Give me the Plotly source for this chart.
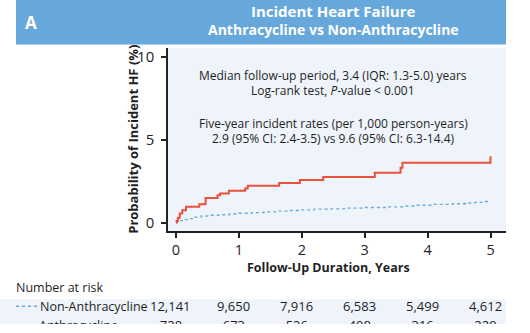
import plotly.graph_objects as go

# Kaplan-Meier style cumulative incidence (%), step curves
anthra_years = [0, 0.01, 0.03, 0.06, 0.10, 0.16, 0.37, 0.47, 0.66, 0.70, 0.84,
                1.10, 1.14, 1.64, 1.97, 2.34, 3.16, 3.57, 3.60, 5.0]
anthra_prob = [0, 0.10, 0.30, 0.55, 0.75, 0.95, 1.10, 1.48, 1.65, 1.76, 1.92,
               2.06, 2.22, 2.39, 2.57, 2.75, 3.00, 3.30, 3.60, 4.00]

non_years = [0, 0.02, 0.06, 0.15, 0.22, 0.30, 0.40, 0.55, 0.70, 0.85, 1.0,
             1.2, 1.4, 1.6, 1.8, 2.0, 2.2, 2.4, 2.7, 3.0, 3.35, 3.6, 3.8,
             4.05, 4.4, 4.6, 4.75, 4.88, 5.0]
non_prob = [0, 0.06, 0.12, 0.18, 0.24, 0.33, 0.40, 0.44, 0.47, 0.52, 0.56,
            0.60, 0.65, 0.69, 0.73, 0.77, 0.81, 0.83, 0.87, 0.91, 0.95, 1.00, 1.05,
            1.10, 1.14, 1.18, 1.22, 1.27, 1.27]

# Number at risk table
risk_times = [0, 1, 2, 3, 4, 5]
risk_non = ["12,141", "9,650", "7,916", "6,583", "5,499", "4,612"]
risk_anthra = ["728", "673", "536", "408", "316", "229"]

x_ticks = [0, 1, 2, 3, 4, 5]
y_ticks = [0, 5, 10]

RED = "#E8513D"
BLUE = "#6AAAD8"
HEADER = "#67A8DC"
PANEL = "#EEF4FA"
INK = "#1f1f1f"
FONT = "Open Sans"

W, H = 530, 333
X_RANGE = [-0.127, 5.246]
PLOT_L, PLOT_R = 168, 506
NUM_SHIFT = -5  # risk counts sit slightly left of their tick


def px(x):
    return x / W


def py(y):
    return 1 - y / H


# the risk-table strip shares the main x scale but starts at the page's left edge
units_per_px = (X_RANGE[1] - X_RANGE[0]) / (PLOT_R - PLOT_L)
x2_left = X_RANGE[0] - PLOT_L * units_per_px

fig = go.Figure()
fig.add_trace(go.Scatter(x=non_years, y=non_prob, mode="lines", line_shape="hv",
                         line=dict(color=BLUE, width=1.4, dash="dot"),
                         name="Non-Anthracycline", hoverinfo="skip"))
fig.add_trace(go.Scatter(x=anthra_years, y=anthra_prob, mode="lines", line_shape="hv",
                         line=dict(color=RED, width=2),
                         name="Anthracycline", hoverinfo="skip"))

# last risk row: drawn in its own strip so the page edge trims it
fig.add_trace(go.Scatter(x=[t + NUM_SHIFT * units_per_px for t in risk_times],
                         y=[-3] * len(risk_times), text=risk_anthra,
                         mode="text", textposition="middle center",
                         textfont=dict(family=FONT, size=13, color=INK),
                         cliponaxis=True, xaxis="x2", yaxis="y2", hoverinfo="skip"))
fig.add_trace(go.Scatter(x=[x2_left + 39 * units_per_px], y=[-3], text=["Anthracycline"],
                         mode="text", textposition="middle right",
                         textfont=dict(family=FONT, size=12.5, color=INK),
                         cliponaxis=True, xaxis="x2", yaxis="y2", hoverinfo="skip"))

shapes = [
    # title band
    dict(type="rect", xref="paper", yref="paper", x0=px(16), x1=px(506),
         y0=py(43), y1=py(-2), fillcolor=HEADER, line_width=0, layer="below"),
    # legend key of the risk table
    dict(type="line", xref="paper", yref="paper", x0=px(16), x1=px(37),
         y0=py(307), y1=py(307), line=dict(color=BLUE, width=1.3, dash="dot")),
]

ann = []
ann.append(dict(text="<b>A</b>", x=px(23), y=py(21), xref="paper", yref="paper",
                xanchor="left", yanchor="middle", showarrow=False,
                font=dict(family=FONT, size=17, color="white")))
ann.append(dict(text="<b>Incident Heart Failure</b>", x=px(333), y=py(9), xref="paper",
                yref="paper", xanchor="center", yanchor="middle", showarrow=False,
                font=dict(family=FONT, size=15, color="white")))
ann.append(dict(text="<b>Anthracycline vs Non-Anthracycline</b>", x=px(333), y=py(28),
                xref="paper", yref="paper", xanchor="center", yanchor="middle",
                showarrow=False, font=dict(family=FONT, size=14, color="white")))

info = [
    ("Median follow-up period, 3.4 (IQR: 1.3-5.0) years", 74),
    ("Log-rank test, <i>P</i>-value &lt; 0.001", 89),
    ("Five-year incident rates (per 1,000 person-years)", 123),
    ("2.9 (95% CI: 2.4-3.5) vs 9.6 (95% CI: 6.3-14.4)", 138),
]
for txt, yy in info:
    ann.append(dict(text=txt, x=px(333), y=py(yy), xref="paper", yref="paper",
                    xanchor="center", yanchor="middle", showarrow=False,
                    font=dict(family=FONT, size=12, color=INK)))

ann.append(dict(text="<b>Probability of Incident HF (%)</b>", x=px(133), y=py(139),
                xref="paper", yref="paper", xanchor="center", yanchor="middle",
                textangle=-90, showarrow=False,
                font=dict(family=FONT, size=13, color=INK)))
ann.append(dict(text="<b>Follow-Up Duration, Years</b>", x=px(328), y=py(268),
                xref="paper", yref="paper", xanchor="center", yanchor="middle",
                showarrow=False, font=dict(family=FONT, size=12.5, color=INK)))

ann.append(dict(text="Number at risk", x=px(14), y=py(288), xref="paper", yref="paper",
                xanchor="left", yanchor="middle", showarrow=False,
                font=dict(family=FONT, size=12.5, color=INK)))
ann.append(dict(text="Non-Anthracycline", x=px(38), y=py(307), xref="paper",
                yref="paper", xanchor="left", yanchor="middle", showarrow=False,
                font=dict(family=FONT, size=12.5, color=INK)))
for t, v in zip(risk_times, risk_non):
    ann.append(dict(text=v, x=t, y=py(307), xref="x", yref="paper",
                    xanchor="center", yanchor="middle", xshift=NUM_SHIFT,
                    showarrow=False, font=dict(family=FONT, size=13, color=INK)))

fig.update_layout(
    width=W, height=H,
    margin=dict(l=0, r=0, t=0, b=0),
    paper_bgcolor="white",
    plot_bgcolor=PANEL,
    showlegend=False,
    shapes=shapes,
    annotations=ann,
    font=dict(family=FONT, color=INK),
    xaxis=dict(domain=[px(PLOT_L), px(PLOT_R)], range=X_RANGE,
               tickvals=x_ticks, ticks="outside", ticklen=5, tickwidth=1.5,
               tickcolor="#222", showline=True, linecolor="#222", linewidth=1.5,
               showgrid=False, zeroline=False,
               tickfont=dict(family=FONT, size=14.5, color=INK)),
    yaxis=dict(domain=[py(231), py(46)], range=[-0.5, 10.54],
               tickvals=y_ticks, ticks="outside", ticklen=5, tickwidth=1.5,
               tickcolor="#222", showline=True, linecolor="#222", linewidth=1.5,
               showgrid=False, zeroline=False, ticklabelstandoff=4,
               tickfont=dict(family=FONT, size=15, color=INK)),
    xaxis2=dict(domain=[0, px(PLOT_R)], range=[x2_left, X_RANGE[1]], visible=False,
                fixedrange=True),
    yaxis2=dict(domain=[py(325), py(300)], range=[0, 25], visible=False,
                fixedrange=True),
)

fig.write_html("out.html")
